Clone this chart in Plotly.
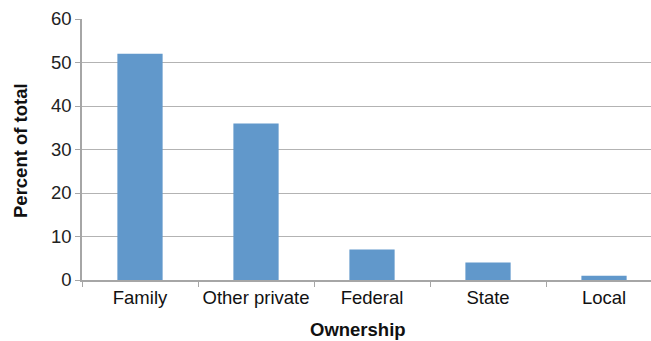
import plotly.graph_objects as go

categories = ["Family", "Other private", "Federal", "State", "Local"]
percent_of_total = [52, 36, 7, 4, 1]
y_ticks = [0, 10, 20, 30, 40, 50, 60]

fig = go.Figure(go.Bar(
    x=categories, y=percent_of_total,
    marker=dict(color="#6198cb", line=dict(width=0)),
    width=0.39,
))

font_family = "Liberation Sans, Arial, sans-serif"
fig.update_layout(
    width=651, height=341,
    margin=dict(l=82, r=0, t=19, b=61, autoexpand=False),
    paper_bgcolor="white", plot_bgcolor="white",
    showlegend=False,
    font=dict(family=font_family, size=18, color="#222"),
)
fig.update_xaxes(
    range=[-0.5, 4.405], automargin=False,
    showline=True, linecolor="#a6a6a6", linewidth=1.5,
    ticks="outside", tickson="boundaries", ticklen=5, tickcolor="#a6a6a6",
    showgrid=False,
    tickfont=dict(size=18.5, color="#111"),
)
fig.update_yaxes(
    range=[0, 60], tickvals=y_ticks, automargin=False,
    showline=True, linecolor="#a6a6a6", linewidth=1.5,
    ticks="outside", ticklen=5, tickcolor="#a6a6a6",
    showgrid=True, gridcolor="#b3b3b3", gridwidth=1.2,
    zeroline=False,
    tickfont=dict(size=18.5, color="#222"),
)
fig.add_annotation(
    text="<b>Ownership</b>", xref="paper", yref="paper",
    x=(358 - 82) / 569, y=-(329 - 280) / 261,
    showarrow=False, font=dict(size=18.5, color="#111"),
    xanchor="center", yanchor="middle",
)
fig.add_annotation(
    text="<b>Percent of total</b>", xref="paper", yref="paper",
    x=-(82 - 20) / 569, y=(280 - 151) / 261, textangle=-90,
    showarrow=False, font=dict(size=18.5, color="#111"),
    xanchor="center", yanchor="middle",
)
fig.write_html(
    "out.html",
    config={"displayModeBar": False},
    post_script="document.body.style.margin='0';",
)
